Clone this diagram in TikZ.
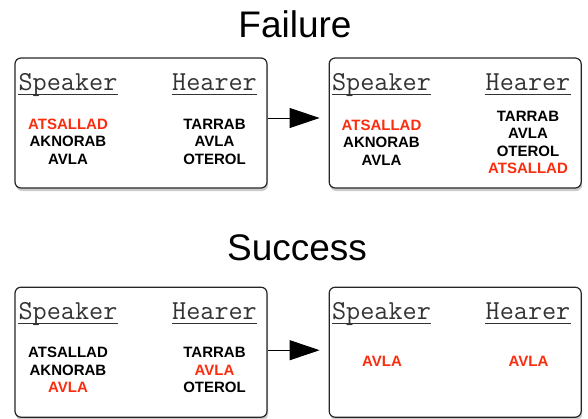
\documentclass[tikz,border=0pt]{standalone}
\usepackage{fontspec}
\setmainfont{Liberation Sans}
\usepackage{tikz}
\usetikzlibrary{shapes,arrows.meta,positioning,shadows}
\definecolor{wordred}{RGB}{250,45,15}

\begin{document}
\begin{tikzpicture}[x=1pt,y=-1pt,
    panel/.style={draw=black!85, line width=1.2pt, rounded corners=6pt, fill=white, minimum width=252pt, minimum height=130pt, inner sep=0pt,
        drop shadow={shadow xshift=1pt, shadow yshift=-3pt, opacity=0.4}},
    title/.style={font=\fontsize{37}{40}\selectfont, anchor=base},
    role/.style={font=\ttfamily\fontsize{27.4}{30}\selectfont, text=black!80, anchor=base, inner sep=0pt},
    words/.style={font=\bfseries\fontsize{15}{17.5}\selectfont, align=center, inner sep=0pt},
    hit/.style={text=wordred},
    uline/.style={draw=black!80, line width=0.9pt},
    flow/.style={line width=1pt, -{Triangle[length=30pt,width=20pt]}, shorten >=9pt}]
    \useasboundingbox (0,0) rectangle (588,418);

    % the four panels
    \node (fail1) [panel] at (141,123) {};
    \node (fail2) [panel, right=61pt of fail1] {};
    \node (succ1) [panel, below=98pt of fail1] {};
    \node (succ2) [panel, right=61pt of succ1] {};

    \node (failtitle) [title] at (295,37) {Failure};
    \node (succtitle) [title] at (297,260) {Success};

    % headers
    \node (fs1) [role] at (68,90) {Speaker};
    \node (fh1) [role] at (214.5,90) {Hearer};
    \node (fs2) [role] at (381.5,90) {Speaker};
    \node (fh2) [role] at (528,90) {Hearer};
    \node (ss1) [role] at (68,319) {Speaker};
    \node (sh1) [role] at (214.5,319) {Hearer};
    \node (ss2) [role] at (381.5,319) {Speaker};
    \node (sh2) [role] at (528,319) {Hearer};
    \foreach \n in {fs1,fh1,fs2,fh2,ss1,sh1,ss2,sh2}
        \draw[uline] ([yshift=-4pt]\n.base west) -- ([yshift=-4pt]\n.base east);

    % word lists
    \node (fw1) [words] at (68,141.5) {\textcolor{wordred}{ATSALLAD}\\AKNORAB\\AVLA};
    \node (fv1) [words] at (214.5,141.5) {TARRAB\\AVLA\\OTEROL};
    \node (fw2) [words] at (381.5,142.5) {\textcolor{wordred}{ATSALLAD}\\AKNORAB\\AVLA};
    \node (fv2) [words] at (528,142.5) {TARRAB\\AVLA\\OTEROL\\\textcolor{wordred}{ATSALLAD}};
    \node (sw1) [words] at (68,370) {ATSALLAD\\AKNORAB\\\textcolor{wordred}{AVLA}};
    \node (sv1) [words] at (214.5,370) {TARRAB\\\textcolor{wordred}{AVLA}\\OTEROL};
    \node (sw2) [words, hit] at (382,361) {AVLA};
    \node (sv2) [words, hit] at (528.5,361) {AVLA};

    \draw[flow] ([yshift=5pt]fail1.east) -- ([yshift=5pt]fail2.west);
    \draw[flow] ([yshift=2pt]succ1.east) -- ([yshift=2pt]succ2.west);
\end{tikzpicture}
\end{document}
